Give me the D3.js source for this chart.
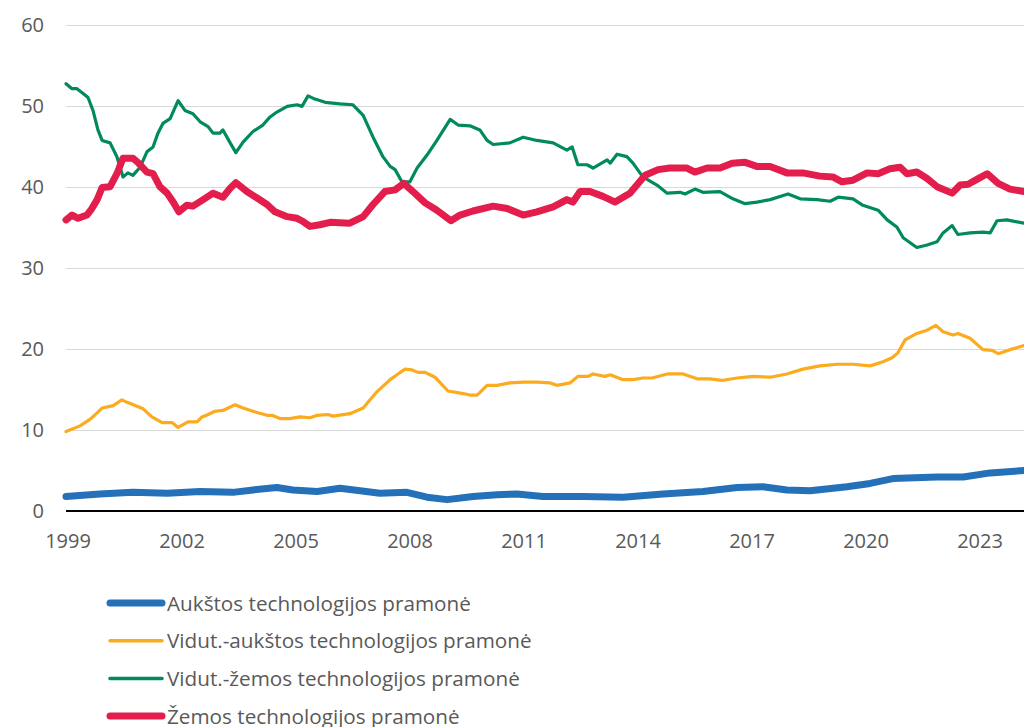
<!DOCTYPE html>
<html>
<head>
<meta charset="utf-8">
<script src="https://cdn.jsdelivr.net/npm/d3@7"></script>
<style>
  html, body { margin: 0; padding: 0; background: #fff; }
  svg { display: block; font-family: "Open Sans", sans-serif; }
</style>
</head>
<body>
<div id="chart"></div>
<script>
// series: [decimal year, share %]
const aukstos = [
  [1999.00,1.8],[1999.89,2.1],[2000.76,2.3],[2001.66,2.2],[2002.53,2.4],[2003.39,2.3],[2003.92,2.6],
  [2004.55,2.9],[2004.97,2.6],[2005.61,2.4],[2006.21,2.8],[2006.74,2.5],[2007.26,2.2],[2007.97,2.3],
  [2008.50,1.7],[2009.03,1.4],[2009.71,1.8],[2010.34,2.0],[2010.87,2.1],[2011.55,1.8],[2012.61,1.8],
  [2013.66,1.7],[2014.71,2.1],[2015.76,2.4],[2016.66,2.9],[2017.34,3.0],[2017.97,2.6],[2018.58,2.5],
  [2019.55,3.0],[2020.16,3.4],[2020.76,4.0],[2021.92,4.2],[2022.61,4.2],[2023.32,4.7],[2024.21,5.0]
];

const vidAukstos = [
  [1999.00,9.8],[1999.37,10.5],[1999.63,11.3],[1999.82,12.1],[1999.95,12.7],[2000.24,13.0],[2000.37,13.4],
  [2000.47,13.7],[2000.61,13.4],[2000.82,13.0],[2001.03,12.6],[2001.26,11.6],[2001.53,10.9],[2001.79,10.9],
  [2001.95,10.3],[2002.21,11.0],[2002.45,11.0],[2002.58,11.6],[2002.74,11.9],[2002.92,12.3],[2003.13,12.4],
  [2003.45,13.1],[2003.66,12.7],[2003.92,12.3],[2004.29,11.8],[2004.42,11.8],[2004.63,11.4],[2004.89,11.4],
  [2005.16,11.6],[2005.42,11.5],[2005.61,11.8],[2005.89,11.9],[2006.03,11.7],[2006.47,12.0],[2006.82,12.7],
  [2007.18,14.7],[2007.53,16.2],[2007.71,16.8],[2007.92,17.5],[2008.11,17.4],[2008.26,17.1],[2008.45,17.1],
  [2008.71,16.5],[2009.05,14.8],[2009.42,14.5],[2009.63,14.3],[2009.82,14.3],[2010.08,15.5],[2010.34,15.5],
  [2010.68,15.8],[2011.03,15.9],[2011.39,15.9],[2011.74,15.8],[2011.92,15.5],[2012.26,15.8],[2012.47,16.6],
  [2012.74,16.6],[2012.87,16.9],[2013.18,16.6],[2013.32,16.8],[2013.66,16.2],[2013.92,16.2],[2014.18,16.4],
  [2014.42,16.4],[2014.82,16.9],[2015.24,16.9],[2015.61,16.3],[2015.95,16.3],[2016.26,16.1],[2016.66,16.4],
  [2017.08,16.6],[2017.53,16.5],[2017.97,16.9],[2018.39,17.5],[2018.84,17.9],[2019.29,18.1],[2019.71,18.1],
  [2020.16,17.9],[2020.50,18.4],[2020.74,18.9],[2020.89,19.5],[2021.08,21.1],[2021.39,21.9],[2021.66,22.3],
  [2021.89,22.9],[2022.08,22.1],[2022.34,21.7],[2022.47,21.9],[2022.79,21.3],[2023.13,19.9],[2023.37,19.8],
  [2023.53,19.4],[2023.84,19.9],[2024.21,20.4]
];

const vidZemos = [
  [1999.00,52.7],[1999.15,52.1],[1999.28,52.1],[1999.45,51.5],[1999.58,51.0],[1999.71,49.4],[1999.84,47.0],
  [1999.95,45.7],[2000.16,45.4],[2000.34,43.7],[2000.50,41.2],[2000.63,41.7],[2000.76,41.4],[2000.95,42.4],
  [2001.13,44.3],[2001.29,44.9],[2001.42,46.6],[2001.55,47.8],[2001.74,48.4],[2001.95,50.6],[2002.13,49.4],
  [2002.34,49.0],[2002.53,48.0],[2002.74,47.4],[2002.87,46.6],[2003.05,46.6],[2003.13,47.0],[2003.32,45.4],
  [2003.47,44.2],[2003.66,45.5],[2003.92,46.8],[2004.18,47.6],[2004.37,48.6],[2004.55,49.2],[2004.82,49.9],
  [2005.08,50.1],[2005.21,49.9],[2005.37,51.2],[2005.55,50.8],[2005.82,50.4],[2006.21,50.2],[2006.55,50.1],
  [2006.82,48.8],[2007.08,46.1],[2007.34,43.7],[2007.53,42.5],[2007.66,42.1],[2007.84,40.6],[2008.05,40.6],
  [2008.24,42.3],[2008.50,43.9],[2008.76,45.7],[2009.11,48.3],[2009.32,47.6],[2009.63,47.5],[2009.89,47.0],
  [2010.08,45.7],[2010.24,45.2],[2010.68,45.4],[2011.03,46.1],[2011.39,45.7],[2011.82,45.4],[2012.18,44.5],
  [2012.32,44.9],[2012.47,42.7],[2012.71,42.7],[2012.87,42.3],[2013.24,43.3],[2013.32,42.9],[2013.50,44.0],
  [2013.76,43.7],[2013.92,42.9],[2014.18,41.2],[2014.55,40.2],[2014.82,39.2],[2015.16,39.3],[2015.29,39.1],
  [2015.55,39.7],[2015.76,39.3],[2016.21,39.4],[2016.55,38.5],[2016.87,37.9],[2017.18,38.1],[2017.53,38.4],
  [2017.79,38.8],[2018.00,39.1],[2018.32,38.5],[2018.76,38.4],[2019.11,38.2],[2019.32,38.7],[2019.71,38.5],
  [2019.97,37.7],[2020.37,37.1],[2020.61,35.9],[2020.87,35.0],[2021.03,33.7],[2021.39,32.5],[2021.66,32.8],
  [2021.92,33.2],[2022.08,34.3],[2022.32,35.2],[2022.47,34.1],[2022.79,34.3],[2023.13,34.4],[2023.32,34.3],
  [2023.50,35.8],[2023.76,35.9],[2024.21,35.5]
];

const zemos = [
  [1999.00,35.9],[1999.16,36.5],[1999.32,36.1],[1999.55,36.5],[1999.68,37.3],[1999.82,38.4],[1999.95,39.9],
  [2000.16,40.0],[2000.34,41.6],[2000.50,43.5],[2000.76,43.5],[2000.89,43.0],[2001.13,41.8],[2001.29,41.6],
  [2001.47,40.0],[2001.66,39.2],[2001.82,38.1],[2001.97,36.9],[2002.18,37.7],[2002.34,37.6],[2002.61,38.4],
  [2002.87,39.2],[2003.13,38.7],[2003.32,39.8],[2003.47,40.5],[2003.76,39.4],[2004.03,38.6],[2004.29,37.8],
  [2004.50,36.9],[2004.82,36.3],[2005.08,36.1],[2005.24,35.7],[2005.42,35.1],[2005.68,35.3],[2005.95,35.6],
  [2006.47,35.5],[2006.82,36.3],[2007.08,37.8],[2007.39,39.4],[2007.66,39.6],[2007.89,40.4],[2008.13,39.4],
  [2008.45,38.0],[2008.76,37.1],[2009.13,35.8],[2009.37,36.5],[2009.71,37.0],[2010.24,37.6],[2010.61,37.3],
  [2011.03,36.5],[2011.39,36.9],[2011.82,37.5],[2012.18,38.4],[2012.34,38.1],[2012.53,39.4],[2012.79,39.4],
  [2013.13,38.8],[2013.45,38.1],[2013.84,39.2],[2014.24,41.4],[2014.58,42.1],[2014.89,42.3],[2015.34,42.3],
  [2015.55,41.8],[2015.87,42.3],[2016.21,42.3],[2016.53,42.9],[2016.87,43.0],[2017.18,42.5],[2017.53,42.5],
  [2017.97,41.7],[2018.39,41.7],[2018.84,41.3],[2019.18,41.2],[2019.42,40.6],[2019.71,40.8],[2020.08,41.7],
  [2020.37,41.6],[2020.68,42.2],[2020.95,42.4],[2021.13,41.6],[2021.39,41.8],[2021.66,41.0],[2021.92,40.0],
  [2022.32,39.2],[2022.53,40.2],[2022.74,40.3],[2022.97,40.9],[2023.24,41.6],[2023.53,40.4],[2023.84,39.7],
  [2024.21,39.4]
];

const seriesNames = [
  "Aukštos technologijos pramonė",
  "Vidut.-aukštos technologijos pramonė",
  "Vidut.-žemos technologijos pramonė",
  "Žemos technologijos pramonė"
];
const seriesData = [aukstos, vidAukstos, vidZemos, zemos];
const colors = ["#2471b9", "#fcab1f", "#008a5e", "#e31d4c"];
const widths = [7, 3.2, 3.2, 7];

const xTicks = [1999, 2002, 2005, 2008, 2011, 2014, 2017, 2020, 2023];
const yTicks = [0, 10, 20, 30, 40, 50, 60];

const W = 1024, H = 727;
const plot = { left: 66, right: 1024, top: 24.5, bottom: 511 };

const svg = d3.select("#chart").append("svg")
  .attr("width", W).attr("height", H);

const x = d3.scaleLinear().domain([1999, 2024.21]).range([plot.left, plot.right]);
const y = d3.scaleLinear().domain([0, 60]).range([plot.bottom, plot.top]);

// gridlines
svg.append("g")
  .selectAll("line").data(yTicks.filter(d => d > 0)).enter().append("line")
  .attr("x1", plot.left).attr("x2", plot.right)
  .attr("y1", d => Math.round(y(d)) + 0.5).attr("y2", d => Math.round(y(d)) + 0.5)
  .attr("stroke", "#d9d9d9").attr("stroke-width", 1);

// y labels
svg.append("g")
  .selectAll("text").data(yTicks).enter().append("text")
  .attr("x", 44).attr("y", d => y(d) + 7)
  .attr("text-anchor", "end")
  .attr("font-size", 20).attr("fill", "#595959")
  .text(d => d);

// x labels
svg.append("g")
  .selectAll("text").data(xTicks).enter().append("text")
  .attr("x", d => x(d) + 2).attr("y", 548)
  .attr("text-anchor", "middle")
  .attr("font-size", 20).attr("fill", "#595959")
  .text(d => d);

// zero axis line
svg.append("line")
  .attr("x1", plot.left).attr("x2", plot.right)
  .attr("y1", y(0)).attr("y2", y(0))
  .attr("stroke", "#000").attr("stroke-width", 2);

const line = d3.line()
  .x(d => x(d[0]))
  .y(d => y(d[1]));

svg.append("g")
  .selectAll("path").data(seriesData).enter().append("path")
  .attr("d", line)
  .attr("fill", "none")
  .attr("stroke", (d, i) => colors[i])
  .attr("stroke-width", (d, i) => widths[i])
  .attr("stroke-linejoin", "round")
  .attr("stroke-linecap", "round");

// legend
const legend = svg.append("g")
  .selectAll("g").data(seriesNames).enter().append("g")
  .attr("transform", (d, i) => `translate(0, ${603 + i * 37.7})`);

legend.append("line")
  .attr("x1", 110).attr("x2", 162)
  .attr("y1", 0).attr("y2", 0)
  .attr("stroke", (d, i) => colors[i])
  .attr("stroke-width", (d, i) => i === 0 || i === 3 ? 7 : 3.5)
  .attr("stroke-linecap", "round");

legend.append("text")
  .attr("x", 167).attr("y", 7.5)
  .attr("font-size", 20.7).attr("fill", "#595959")
  .text(d => d);
</script>
</body>
</html>
